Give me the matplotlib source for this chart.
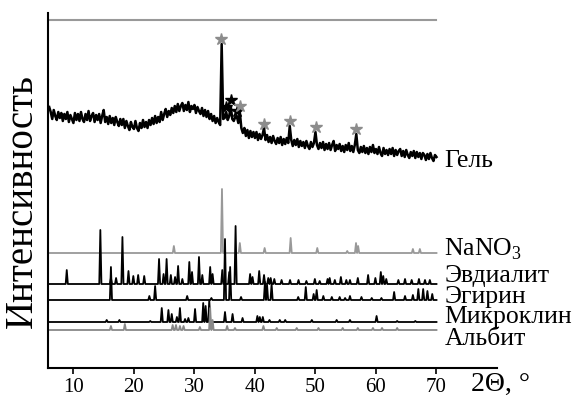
import numpy as np
import matplotlib.pyplot as plt

plt.rcParams['font.family'] = 'Liberation Serif'
plt.rcParams['mathtext.fontset'] = 'custom'
plt.rcParams['mathtext.rm'] = 'Liberation Serif'

# gel trace, 6..70 deg step 0.25
gel_start, gel_step = 6.0, 0.25
gel = [261, 256, 249, 258, 252, 248, 256, 250,
       255, 247, 254, 249, 256, 246, 253, 249,
       245, 255, 248, 254, 247, 256, 249, 246,
       254, 248, 257, 247, 252, 255, 246, 253,
       248, 254, 245, 252, 258, 246, 251, 244,
       252, 245, 250, 243, 251, 246, 242, 249,
       243, 249, 240, 247, 242, 238, 246, 241,
       239, 247, 240, 237, 245, 240, 248, 241,
       246, 240, 248, 243, 250, 244, 252, 245,
       251, 246, 256, 248, 254, 259, 251, 257,
       253, 260, 255, 262, 256, 264, 257, 262,
       265, 257, 263, 258, 266, 256, 262, 259,
       263, 255, 261, 257, 254, 260, 252, 258,
       251, 257, 249, 254, 247, 252, 245, 250,
       246, 243, 324, 249, 250, 256, 248, 252,
       262, 249, 247, 251, 252, 245, 256, 240,
       235, 240, 232, 238, 230, 237, 231, 236,
       230, 236, 228, 234, 229, 233, 240, 228,
       233, 226, 231, 225, 232, 227, 224, 230,
       225, 231, 223, 229, 224, 230, 225, 242,
       228, 222, 228, 223, 229, 221, 227, 222,
       226, 220, 227, 222, 219, 226, 221, 225,
       236, 223, 219, 225, 220, 226, 218, 224,
       219, 225, 218, 223, 227, 217, 223, 219,
       224, 217, 222, 216, 223, 218, 225, 217,
       222, 216, 223, 234, 218, 215, 221, 216,
       222, 215, 220, 214, 221, 216, 223, 215,
       219, 214, 221, 215, 212, 220, 214, 218,
       213, 219, 214, 220, 212, 218, 213, 217,
       219, 212, 217, 211, 218, 213, 210, 216,
       212, 217, 210, 216, 211, 215, 209, 215,
       213, 208, 214, 209, 215, 210, 207, 213,
       211]

# stars on gel peaks (position, height, colour)
star_x = [34.45, 35.2, 36.1, 37.0, 37.6, 41.5, 45.8, 50.1, 56.7]
star_y = [329, 261, 268, 257, 262, 244, 247, 241, 239]
star_c = ['#8c8c8c', 'k', 'k', 'k', '#8c8c8c', '#8c8c8c', '#8c8c8c', '#8c8c8c', '#8c8c8c']

# reference patterns: baseline and (2theta, height)
nano3_base = 115
nano3_peaks = [(26.6, 7), (34.55, 64), (37.5, 10), (41.6, 5), (45.9, 15), (50.3, 5),
               (55.25, 2), (56.7, 10), (57.05, 7), (66.1, 4), (67.25, 4)]
eud_base = 84
eud_peaks = [(8.9, 14), (14.45, 54), (16.2, 6), (17.05, 6), (18.1, 47), (19.1, 13),
             (19.9, 8), (20.7, 9), (21.7, 8), (24.15, 25), (24.9, 10), (25.4, 25),
             (26.1, 9), (26.8, 7), (27.3, 18), (28.0, 5), (29.15, 22), (29.6, 12),
             (30.75, 27), (31.3, 9), (32.6, 17), (33.0, 10), (34.6, 14), (35.75, 12),
             (36.8, 58), (39.2, 10), (39.6, 7), (40.7, 13), (41.5, 9), (42.2, 6),
             (42.6, 6), (43.2, 5), (44.4, 4), (45.8, 4), (47.2, 4), (48.5, 3),
             (49.9, 5), (50.7, 3), (52.0, 5), (52.35, 6), (53.2, 4), (54.2, 7),
             (55.1, 4), (55.7, 4), (57.0, 6), (58.7, 9), (59.9, 6), (60.8, 12),
             (61.2, 8), (61.7, 5), (63.7, 4), (64.8, 5), (65.9, 4), (67.1, 5),
             (68.1, 4), (68.9, 4)]
aeg_base = 68
aeg_peaks = [(16.2, 33), (22.55, 4), (23.5, 14), (28.8, 4), (32.8, 2), (35.05, 61),
             (35.9, 33), (37.7, 3), (41.65, 18), (42.0, 15), (42.75, 16), (47.15, 3),
             (48.4, 13), (49.7, 6), (50.2, 10), (51.3, 4), (52.7, 3), (54.0, 3),
             (54.9, 2), (55.7, 4), (57.6, 3), (59.3, 2), (60.9, 2), (63.0, 8),
             (64.8, 4), (66.1, 5), (67.0, 11), (67.8, 11), (68.5, 9), (69.3, 6)]
mic_base = 46
mic_peaks = [(15.5, 2), (17.6, 2), (22.7, 1), (24.6, 14), (25.7, 12), (26.25, 8),
             (27.1, 5), (27.6, 14), (28.45, 3), (29.0, 4), (30.1, 13), (31.45, 19),
             (31.85, 16), (32.45, 22), (35.05, 10), (36.3, 8), (37.95, 4), (40.4, 6),
             (40.8, 5), (41.3, 5), (42.4, 2), (44.1, 2), (45.0, 2), (49.4, 2),
             (53.5, 2), (55.7, 2), (60.1, 6), (63.5, 1), (66.5, 1)]
alb_base = 38
alb_peaks = [(16.2, 4), (18.5, 6), (26.4, 5), (26.95, 5), (27.6, 4), (28.2, 4),
             (30.9, 3), (32.6, 22), (33.0, 10), (35.4, 4), (36.7, 2), (41.4, 4),
             (43.6, 2), (46.9, 2), (50.5, 2), (54.5, 2), (57.0, 2), (59.5, 2),
             (61.0, 2), (63.5, 2)]

top_line_y = 348
labels = ['Гель', 'NaNO$_3$', 'Эвдиалит', 'Эгирин', 'Микроклин', 'Альбит']
label_y = [201, 113, 86, 65, 45, 23]


def pattern(base, peaks, w=0.18):
    xs, ys = [6.0], [base]
    for p, h in sorted(peaks):
        xs += [p - w, p, p + w]
        ys += [base, base + h, base]
    xs.append(70.0)
    ys.append(base)
    return xs, ys


fig = plt.figure(figsize=(5.79, 3.97), dpi=100)
ax = fig.add_axes([48 / 579, 29 / 397, 449 / 579, 355 / 397])

gx = gel_start + gel_step * np.arange(len(gel))
ax.plot(gx, gel, color='k', lw=1.8)
for x, y, c in zip(star_x, star_y, star_c):
    ax.plot(x, y, marker='*', ms=9, color=c, mec=c)

ax.plot([5.8, 70], [top_line_y, top_line_y], color='#999999', lw=1.5)

for base, peaks, col in [(nano3_base, nano3_peaks, '#999999'),
                         (eud_base, eud_peaks, 'k'),
                         (aeg_base, aeg_peaks, 'k'),
                         (mic_base, mic_peaks, 'k'),
                         (alb_base, alb_peaks, '#888888')]:
    xs, ys = pattern(base, peaks)
    ax.plot(xs, ys, color=col, lw=1.3)

for t, y in zip(labels, label_y):
    ax.text(71.3, y, t, fontsize=18.5, va='baseline', ha='left', clip_on=False)

ax.set_xlim(5.8, 80)
ax.set_ylim(0, 355)
ax.spines['top'].set_visible(False)
ax.spines['right'].set_visible(False)
ax.spines['left'].set_linewidth(1.5)
ax.spines['bottom'].set_linewidth(1.5)
ax.set_yticks([])
ax.set_xticks([10, 20, 30, 40, 50, 60, 70])
ax.tick_params(axis='x', direction='out', length=4, width=1.2, labelsize=15, pad=3)

fig.text(22 / 579, 1 - 201 / 397, 'Интенсивность', rotation=90, fontsize=28,
         ha='center', va='center')
fig.text(471 / 579, 6 / 397, '2Θ, °', fontsize=20, ha='left', va='baseline')

fig.savefig('out.png', dpi=100)
